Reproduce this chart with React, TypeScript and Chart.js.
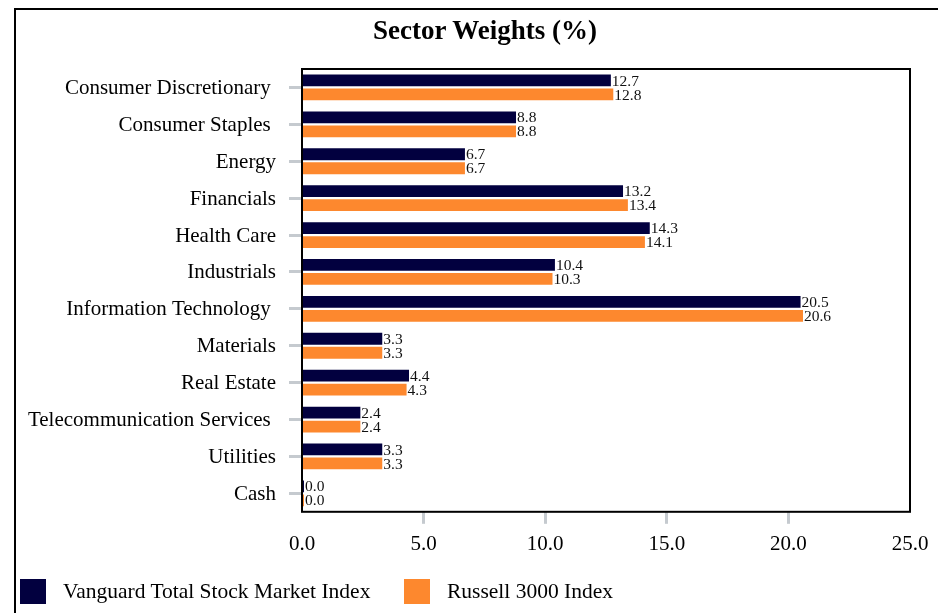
import React, { useEffect, useRef } from "react";
import { Chart, registerables } from "chart.js";

Chart.register(...registerables);

const categories = [
  "Consumer Discretionary ",
  "Consumer Staples ",
  "Energy",
  "Financials",
  "Health Care",
  "Industrials",
  "Information Technology ",
  "Materials",
  "Real Estate",
  "Telecommunication Services ",
  "Utilities",
  "Cash",
];
const vanguardValues = [12.7, 8.8, 6.7, 13.2, 14.3, 10.4, 20.5, 3.3, 4.4, 2.4, 3.3, 0.0];
const russellValues = [12.8, 8.8, 6.7, 13.4, 14.1, 10.3, 20.6, 3.3, 4.3, 2.4, 3.3, 0.0];
const seriesNames = ["Vanguard Total Stock Market Index", "Russell 3000 Index"];
const seriesColors = ["#02003F", "#FD882E"];
const chartTitle = "Sector Weights (%)";
const xMin = 0;
const xMax = 25;
const xStep = 5;

const FONT = "'Liberation Serif', 'Times New Roman', serif";

const framePlugin = {
  id: "frame",
  afterDraw(chart: any) {
    const { ctx, chartArea } = chart;
    ctx.save();
    ctx.strokeStyle = "#000";
    ctx.lineWidth = 2;
    ctx.strokeRect(chartArea.left, chartArea.top, chartArea.right - chartArea.left, chartArea.bottom - chartArea.top);
    ctx.restore();
  },
};

const valueLabelPlugin = {
  id: "valueLabels",
  afterDatasetsDraw(chart: any) {
    const { ctx } = chart;
    ctx.save();
    ctx.font = `15.5px ${FONT}`;
    ctx.fillStyle = "#111";
    ctx.textAlign = "left";
    ctx.textBaseline = "middle";
    chart.data.datasets.forEach((ds: any, di: number) => {
      const meta = chart.getDatasetMeta(di);
      meta.data.forEach((bar: any, i: number) => {
        const v = ds.data[i] as number;
        ctx.fillText(v.toFixed(1), bar.x + 1, bar.y + 1);
      });
    });
    ctx.restore();
  },
};

function ChartCanvas() {
  const ref = useRef<HTMLCanvasElement | null>(null);
  useEffect(() => {
    if (!ref.current) return;
    const tickFont = { family: FONT, size: 21 };
    const chart = new Chart(ref.current, {
      type: "bar",
      data: {
        labels: categories,
        datasets: [
          {
            label: seriesNames[0],
            data: vanguardValues,
            backgroundColor: seriesColors[0],
            categoryPercentage: 0.76,
            barPercentage: 0.84,
            minBarLength: 2,
          },
          {
            label: seriesNames[1],
            data: russellValues,
            backgroundColor: seriesColors[1],
            categoryPercentage: 0.76,
            barPercentage: 0.84,
            minBarLength: 2,
          },
        ],
      },
      options: {
        indexAxis: "y",
        responsive: false,
        maintainAspectRatio: false,
        animation: false,
        devicePixelRatio: 1,
        layout: { padding: { left: 20, right: 28, top: 69, bottom: 48 } },
        plugins: {
          legend: { display: false },
          tooltip: { enabled: false },
          title: { display: false },
        },
        scales: {
          x: {
            min: xMin,
            max: xMax,
            ticks: {
              stepSize: xStep,
              color: "#000",
              font: tickFont,
              padding: 8,
              callback: (v: any) => Number(v).toFixed(1),
            },
            grid: {
              drawOnChartArea: false,
              drawTicks: true,
              tickLength: 12,
              tickWidth: 3,
              tickColor: (c: any) =>
                c.tick && (c.tick.value === xMin || c.tick.value === xMax) ? "rgba(0,0,0,0)" : "#C5CACF",
            },
            border: { display: false },
          },
          y: {
            ticks: { color: "#000", font: tickFont, padding: 13, labelOffset: 1 },
            grid: {
              offset: false,
              drawOnChartArea: false,
              drawTicks: true,
              tickLength: 13,
              tickWidth: 3,
              tickColor: "#C5CACF",
            },
            border: { display: false },
            afterFit: (s: any) => {
              s.width = 282;
            },
          },
        },
      } as any,
      plugins: [framePlugin, valueLabelPlugin],
    });
    return () => chart.destroy();
  }, []);
  return <canvas ref={ref} width={938} height={613} style={{ position: "absolute", left: 0, top: 0, width: 938, height: 613 }} />;
}

export default function App() {
  return (
    <div
      style={{
        position: "fixed",
        left: 0,
        top: 0,
        width: 938,
        height: 613,
        overflow: "hidden",
        background: "#fff",
      }}
    >
      <div
        style={{
          position: "absolute",
          left: 14,
          top: 8,
          width: 1000,
          height: 700,
          borderTop: "2px solid #000",
          borderLeft: "2px solid #000",
        }}
      />
      <ChartCanvas />
      <div
        style={{
          position: "absolute",
          left: 0,
          top: 14,
          width: 970,
          textAlign: "center",
          fontFamily: FONT,
          fontWeight: "bold",
          fontSize: 27,
          lineHeight: "32px",
          color: "#000",
          whiteSpace: "nowrap",
        }}
      >
        {chartTitle}
      </div>
      {seriesNames.map((name, i) => (
        <div
          key={name}
          style={{
            position: "absolute",
            left: i === 0 ? 20 : 404,
            top: 579,
            height: 25,
            display: "flex",
            alignItems: "center",
            fontFamily: FONT,
            fontSize: 21.5,
            color: "#000",
            whiteSpace: "nowrap",
          }}
        >
          <span style={{ display: "inline-block", width: 26, height: 25, background: seriesColors[i], marginRight: 17 }} />
          <span>{name}</span>
        </div>
      ))}
    </div>
  );
}
